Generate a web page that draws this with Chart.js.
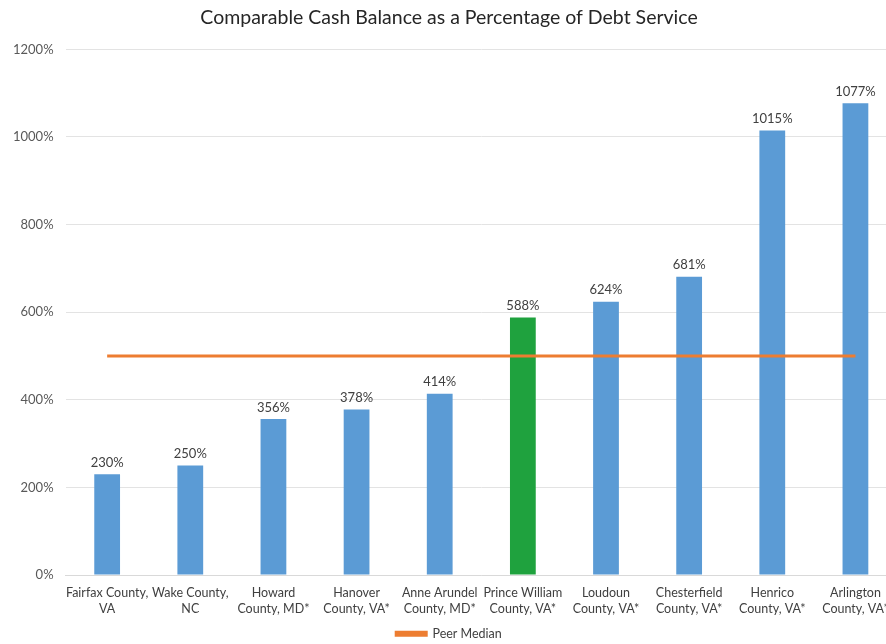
<!DOCTYPE html>
<html>
<head>
<meta charset="utf-8">
<script src="https://cdn.jsdelivr.net/npm/chart.js@4"></script>
<style>
  html, body { margin: 0; padding: 0; background: #fff; overflow: hidden; }
  #wrap { width: 897px; height: 644px; }
</style>
</head>
<body>
<div id="wrap"><canvas id="cash-chart"></canvas></div>
<script>
const counties = [
  ['Fairfax County,', 'VA'],
  ['Wake County,', 'NC'],
  ['Howard', 'County, MD*'],
  ['Hanover', 'County, VA*'],
  ['Anne Arundel', 'County, MD*'],
  ['Prince William', 'County, VA*'],
  ['Loudoun', 'County, VA*'],
  ['Chesterfield', 'County, VA*'],
  ['Henrico', 'County, VA*'],
  ['Arlington', 'County, VA*']
];
const cashPct = [230, 250, 356, 378, 414, 588, 624, 681, 1015, 1077];
const peerMedian = [500, 500, 500, 500, 500, 500, 500, 500, 500, 500];
const highlight = 'Prince William';

const blue = '#5B9BD5';
const green = '#1FA23E';
const orange = '#ED7D31';
const font = 'Lato, "Liberation Sans", sans-serif';

// etiquetas encima de cada barra
const barLabels = {
  id: 'barLabels',
  afterDatasetsDraw(chart) {
    const ctx = chart.ctx;
    const meta = chart.getDatasetMeta(1);
    ctx.save();
    ctx.font = '13px ' + font;
    ctx.fillStyle = '#404040';
    ctx.textAlign = 'center';
    ctx.textBaseline = 'bottom';
    meta.data.forEach((bar, i) => {
      ctx.fillText(cashPct[i] + '%', bar.x, bar.y - 5);
    });
    ctx.restore();
  }
};

new Chart(document.getElementById('cash-chart'), {
  data: {
    labels: counties,
    datasets: [
      {
        type: 'line',
        label: 'Peer Median',
        data: peerMedian,
        borderColor: orange,
        backgroundColor: orange,
        borderWidth: 3,
        pointRadius: 0,
        order: 0
      },
      {
        type: 'bar',
        label: 'Cash Balance',
        data: cashPct,
        backgroundColor: counties.map(c => c[0] === highlight ? green : blue),
        barPercentage: 0.31,
        categoryPercentage: 1,
        order: 1
      }
    ]
  },
  options: {
    responsive: true,
    maintainAspectRatio: false,
    animation: false,
    layout: { padding: { left: 1, right: 0, top: 6, bottom: -6 } },
    plugins: {
      title: {
        display: true,
        text: 'Comparable Cash Balance as a Percentage of Debt Service',
        color: '#262626',
        font: { family: font, size: 19.5, weight: 'normal' },
        padding: { top: 0, bottom: 20 }
      },
      legend: {
        position: 'bottom',
        labels: {
          filter: item => item.text === 'Peer Median',
          boxWidth: 30,
          boxHeight: 3,
          color: '#404040',
          font: { family: font, size: 12.5 },
          padding: 2
        }
      },
      tooltip: { enabled: false }
    },
    scales: {
      x: {
        afterFit: axis => { axis.height += 6; },  // baja la leyenda
        grid: { display: false },
        border: { color: '#D9D9D9' },
        ticks: {
          color: '#404040',
          font: { family: font, size: 12.5, lineHeight: 1.3 },
          maxRotation: 0,
          autoSkip: false,
          padding: 2
        }
      },
      y: {
        min: 0,
        max: 1200,
        grid: { color: '#E3E3E3', drawTicks: false },
        border: { display: false },
        ticks: {
          stepSize: 200,
          color: '#595959',
          font: { family: font, size: 13 },
          padding: 12,
          callback: v => v + '%'
        }
      }
    }
  },
  plugins: [barLabels]
});
</script>
</body>
</html>
